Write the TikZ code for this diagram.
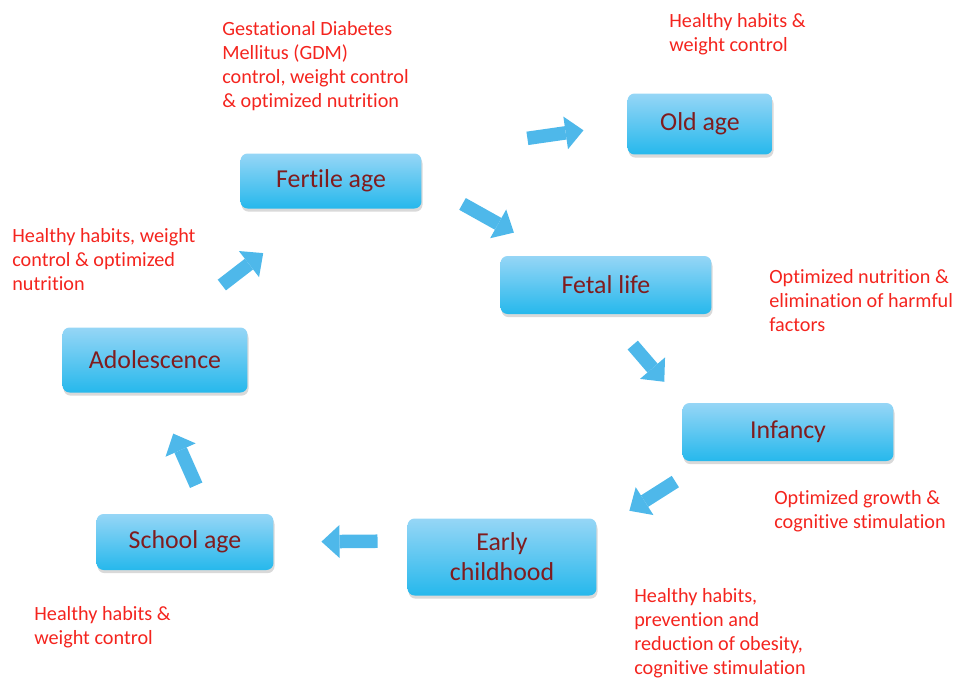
\documentclass[tikz,border=0pt]{standalone}
\usepackage{fontspec}
\setmainfont{Carlito}[Ligatures=NoCommon]
\usetikzlibrary{arrows.meta,shadows}

\definecolor{box top}{RGB}{150,214,246}
\definecolor{box bottom}{RGB}{38,184,236}
\definecolor{box text}{RGB}{128,28,30}
\definecolor{note red}{RGB}{244,36,30}
\definecolor{flow blue}{RGB}{78,184,234}
\tikzset{stage/.style={rounded corners=4pt, top color=box top, bottom color=box bottom,
        text=box text, font=\fontsize{14.7}{17}\selectfont, align=center,
        inner sep=0pt, outer sep=0pt,
        drop shadow={shadow xshift=0.6pt, shadow yshift=-1.8pt, opacity=0.3}},
    note/.style={anchor=north west, inner sep=0pt, text=note red, align=left,
        font=\fontsize{11.5}{13.7}\selectfont},
    flow/.style={draw=flow blue, line width=0.27cm,
        -{Triangle[width=0.66cm, length=0.36cm, line width=0pt]}}}

\begin{document}
\begin{tikzpicture}[x=0.02cm, y=-0.02cm]
    \useasboundingbox (0,0) rectangle (957,680);
    % life stages
    \node[stage, minimum width=3.62cm, minimum height=1.10cm] (fertile) at (331,181) {Fertile age};
    \node[stage, minimum width=2.90cm, minimum height=1.22cm] (old) at (700,124) {Old age};
    \node[stage, minimum width=4.22cm, minimum height=1.16cm] (fetal) at (606,285) {Fetal life};
    \node[stage, minimum width=4.22cm, minimum height=1.16cm] (infancy) at (788,432) {Infancy};
    \node[stage, minimum width=3.78cm, minimum height=1.54cm] (early) at (502,557) {Early\\childhood};
    \node[stage, minimum width=3.54cm, minimum height=1.12cm] (school) at (185,542) {School age};
    \node[stage, minimum width=3.70cm, minimum height=1.30cm] (adolescence) at (155,360) {Adolescence};
    % interventions
    \node[note] (gdmnote) at (222,21) {Gestational Diabetes\\Mellitus (GDM)\\control, weight control\\\& optimized nutrition};
    \node[note] (oldnote) at (669,13) {Healthy habits \&\\weight control};
    \node[note] (fetalnote) at (769,269) {Optimized nutrition \&\\elimination of harmful\\factors};
    \node[note] (infancynote) at (774,490) {Optimized growth \&\\cognitive stimulation};
    \node[note] (earlynote) at (634,588) {Healthy habits,\\prevention and\\reduction of obesity,\\cognitive stimulation};
    \node[note] (schoolnote) at (34,606) {Healthy habits \&\\weight control};
    \node[note] (adolnote) at (12,228) {Healthy habits, weight\\control \& optimized\\nutrition};
    % cycle
    \draw[flow, shorten <=0.94cm, shorten >=0.96cm] (fertile.east) -- (fetal.150);
    \draw[flow, shorten <=2.14cm, shorten >=0.89cm] (fertile.north east) -- (old.west);
    \draw[flow, shorten <=0.82cm, shorten >=0.56cm] (fetal.south) -- (infancy.north west);
    \draw[flow, shorten <=0.17cm, shorten >=0.78cm] ([yshift=-0.32cm]infancy.south west) -- (early.15);
    \draw[flow, shorten <=0.60cm, shorten >=0.96cm] ([yshift=0.32cm]early.west) -- (school.east);
    \draw[flow, shorten <=0.63cm, shorten >=0.90cm] ([xshift=0.48cm]school.north) -- (adolescence.south);
    \draw[flow, shorten <=1.39cm, shorten >=1.46cm] (adolescence.70) -- (fertile.-110);
\end{tikzpicture}
\end{document}
